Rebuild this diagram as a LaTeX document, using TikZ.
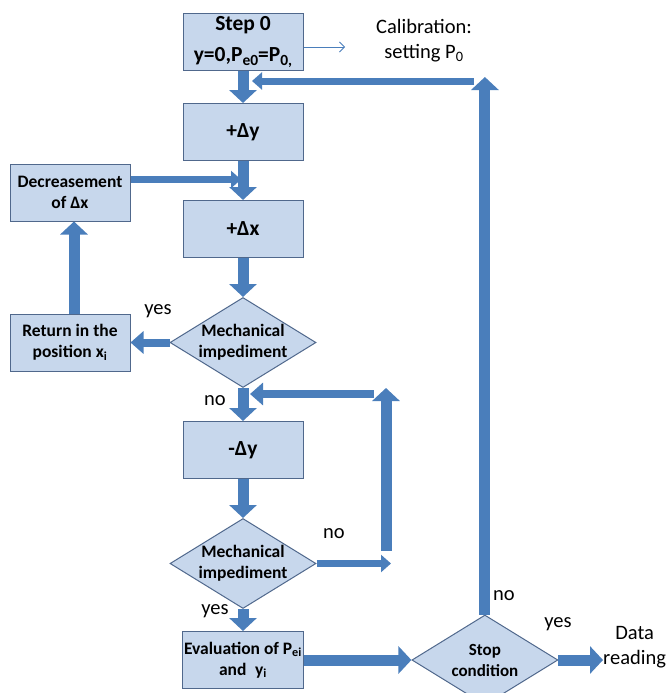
\documentclass[tikz,border=0pt]{standalone}
\usepackage{fontspec}
\setmainfont{Carlito}
\usepackage{xcolor}
\usetikzlibrary{positioning,arrows.meta,shapes.geometric,calc}

\definecolor{boxfill}{RGB}{199,215,236}
\definecolor{boxline}{RGB}{80,104,140}
\definecolor{arrowblue}{RGB}{74,126,187}

% index set low, as in the drawing
\newcommand{\lowidx}[1]{\raisebox{-0.35ex}{\scalebox{0.72}{#1}}}

\begin{document}
\begin{tikzpicture}[x=1pt, y=-1pt,
    procbox/.style={draw=boxline, fill=boxfill, line width=1pt, minimum width=120pt,
        minimum height=57pt, align=center, inner sep=2pt,
        font=\bfseries\fontsize{17.5}{21}\selectfont},
    mainbox/.style={procbox, font=\bfseries\fontsize{21.5}{26}\selectfont},
    decision/.style={diamond, draw=boxline, fill=boxfill, line width=1pt, aspect=1.6,
        minimum width=146pt, minimum height=90pt, inner sep=-3pt, align=center,
        font=\bfseries\fontsize{17.5}{21}\selectfont},
    flow/.style={draw=arrowblue, line width=11pt, -{Triangle[length=13pt, width=27pt]}},
    flowthin/.style={draw=arrowblue, line width=8pt, -{Triangle[length=13pt, width=22pt]}},
    flowsmall/.style={draw=arrowblue, line width=7pt, -{Triangle[length=10pt, width=17pt]}},
    thinarrow/.style={draw=arrowblue, line width=0.8pt, -{Straight Barb[length=5pt, width=10pt]}},
    note/.style={font=\fontsize{20.5}{25}\selectfont, align=center, inner sep=0pt},
]
\useasboundingbox (0,0) rectangle (669,693);

% Main column
\node[mainbox] (step0) at (243,42) {Step 0\\[5pt] y=0,P\lowidx{e0}=P\lowidx{0,}};
\node[mainbox, below=32pt of step0] (incy) {+Δy};
\node[mainbox, below=39pt of incy] (incx) {+Δx};
\node[decision, below=39pt of incx] (mech1) {Mechanical\\impediment};
\node[mainbox, below=33pt of mech1] (decy) {-Δy};
\node[decision, below=39pt of decy] (mech2) {Mechanical\\impediment};
\node[procbox, below=22pt of mech2] (eval) {Evaluation of P\textsubscript{ei}\\and\enspace y\textsubscript{i}};

% Side boxes
\node[procbox, left=39pt of mech1] (ret) {Return in the\\position x\textsubscript{i}};
\node[procbox, above=92pt of ret] (decr) {Decreasement\\of Δx};
\node[decision, font=\bfseries\fontsize{17}{21}\selectfont, right=107pt of eval] (stop) {Stop\\condition};

% Free texts
\node[note] (calib) at (424,41) {Calibration:\\setting P\textsubscript{0}};
\node[note, anchor=west] (data) at (603,647) {Data\\reading};

% Turning points
\coordinate (calibend) at (345,47);
\coordinate (looptop) at (483,77);
\coordinate (loopin) at (474,81);
\coordinate (loopend) at (252,81);
\coordinate (decrout) at ([yshift=13pt]decr.east);
\coordinate (decrjoin) at (241,0);
\coordinate (sideright) at (391,0);
\coordinate (sidebot) at (386,551);
\coordinate (sidetop) at (386,388);
\coordinate (sidein) at (374,394);
\coordinate (sideend) at (250,394);

% Main flow
\draw[thinarrow] ([yshift=-5pt]step0.east) -- (calibend);
\draw[flow] (step0.south) -- (incy.north);
\draw[flow] (incy.south) -- (incx.north);
\draw[flow] (incx.south) -- (mech1.north);
\draw[flow] (mech1.south) -- (decy.north);
\draw[flow] (decy.south) -- (mech2.north);
\draw[flow] (mech2.south) -- (eval.north);
\draw[flow] (eval.east |- stop.west) -- (stop.west);
\draw[flow] (stop.east) -- (stop.east -| data.west);

% Mechanical impediment: yes
\draw[flowthin] (mech1.west) -- (ret.east);
\draw[flow] ([xshift=4pt]ret.north) -- ([xshift=4pt]decr.south);
\draw[flowsmall] (decrout) -- (decrout -| decrjoin);

% Second impediment: no
\draw[flowsmall] (mech2.east) -- (mech2.east -| sideright);
\draw[flow] (sidebot) -- (sidetop);
\draw[flowthin] (sidein) -- (sideend);

% Stop condition: no
\draw[flow] (stop.north) -- (stop.north |- looptop);
\draw[flowsmall] (loopin) -- (loopend);

% Branch labels
\node[note] (yes1) at (158,311) {yes};
\node[note] (no1) at (215,401) {no};
\node[note] (no2) at (334,534) {no};
\node[note] (yes2) at (215,611) {yes};
\node[note] (no3) at (504,596) {no};
\node[note] (yes3) at (558,624) {yes};

\end{tikzpicture}
\end{document}
